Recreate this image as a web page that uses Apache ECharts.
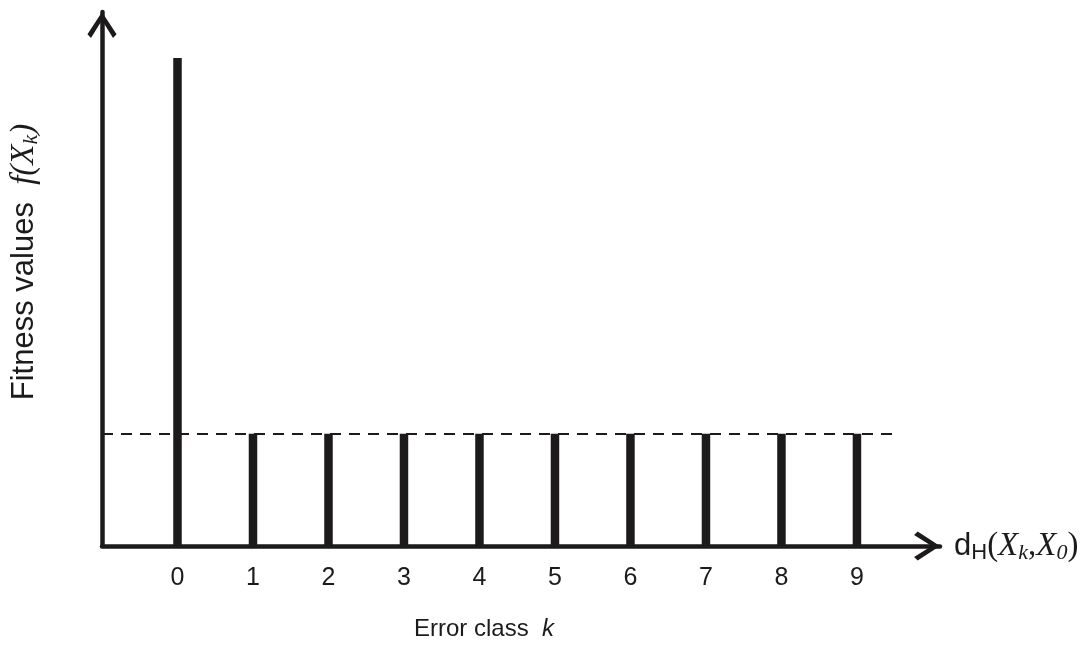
<!DOCTYPE html>
<html>
<head>
<meta charset="utf-8">
<script src="https://cdn.jsdelivr.net/npm/echarts@6/dist/echarts.min.js"></script>
<style>
html,body{margin:0;padding:0;background:#fff;}
#chart{width:1088px;height:649px;}
</style>
</head>
<body>
<div id="chart"></div>
<script>
// Data
const errorClasses = [0, 1, 2, 3, 4, 5, 6, 7, 8, 9];
const fitnessValues = [9.14, 2.1, 2.1, 2.1, 2.1, 2.1, 2.1, 2.1, 2.1, 2.1];
const tickLabels = ['0', '1', '2', '3', '4', '5', '6', '7', '8', '9'];
const thresholdValue = 2.1;
const thresholdEnd = 9.53;

const INK = '#1c1a1b';
const SANS = '"Liberation Sans", Arial, sans-serif';
const SERIF = '"Liberation Serif", "Times New Roman", serif';
const arrowPath = 'path://M14 0 L28 21.5 L24.6 25 L14 8 L3.4 25 L0 21.5 Z';

const barData = errorClasses.map((k, i) => [k, fitnessValues[i]]);

const chart = echarts.init(document.getElementById('chart'), null, {renderer: 'canvas'});
chart.setOption({
  backgroundColor: '#ffffff',
  animation: false,
  title: {
    text: 'Error class  {k|k}',
    left: 414,
    top: 617,
    padding: 0,
    textStyle: {
      fontFamily: SANS, fontSize: 24, fontWeight: 'normal', color: INK,
      rich: { k: { fontFamily: SANS, fontSize: 24, fontStyle: 'italic', color: INK } }
    }
  },
  grid: { left: 100, right: 148, top: 12, bottom: 103, containLabel: false },
  xAxis: {
    type: 'value',
    min: -1,
    max: 10.1,
    interval: 1,
    splitLine: { show: false },
    axisTick: { show: false },
    axisLine: {
      show: true,
      onZero: false,
      lineStyle: { color: INK, width: 4.5 },
      symbol: ['none', arrowPath],
      symbolSize: [29, 26],
      symbolOffset: [0, -13]
    },
    axisLabel: {
      margin: 20,
      fontFamily: SANS, fontSize: 25, color: INK,
      showMinLabel: true, showMaxLabel: false,
      formatter: function (v) {
        const i = errorClasses.indexOf(Math.round(v));
        return (Math.abs(v - Math.round(v)) < 1e-6 && i >= 0) ? tickLabels[i] : '';
      }
    },
    name: '{d|d}{h|H}{p|(}{x|X}{s|k}{p|,}{x|X}{s|0}{p|)}',
    nameLocation: 'end',
    nameGap: 14,
    nameTextStyle: {
      verticalAlign: 'middle',
      rich: {
        d: { fontFamily: SANS, fontSize: 31, color: INK },
        h: { fontFamily: SANS, fontSize: 22, color: INK, verticalAlign: 'bottom', padding: [14, 0, 0, 0] },
        p: { fontFamily: SERIF, fontSize: 33, color: INK },
        x: { fontFamily: SERIF, fontSize: 33, fontStyle: 'italic', color: INK },
        s: { fontFamily: SERIF, fontSize: 22, fontStyle: 'italic', color: INK, verticalAlign: 'bottom', padding: [14, 0, 0, 0] }
      }
    }
  },
  yAxis: {
    type: 'value',
    min: 0,
    max: 10,
    splitLine: { show: false },
    axisTick: { show: false },
    axisLabel: { show: false },
    axisLine: {
      show: true,
      onZero: false,
      lineStyle: { color: INK, width: 4.5 },
      symbol: ['none', arrowPath],
      symbolSize: [31, 26],
      symbolOffset: [0, -13]
    },
    name: '{a|Fitness values  }{f|f(X}{s|k}{f|)}',
    nameLocation: 'middle',
    nameRotate: 90,
    nameGap: 60,
    nameTextStyle: {
      padding: [0, 0, 0, 34],
      rich: {
        a: { fontFamily: SANS, fontSize: 31, color: INK },
        f: { fontFamily: SERIF, fontSize: 33, fontStyle: 'italic', color: INK },
        s: { fontFamily: SERIF, fontSize: 22, fontStyle: 'italic', color: INK, verticalAlign: 'bottom', padding: [13, 0, 0, 0] }
      }
    }
  },
  series: [{
    type: 'bar',
    data: barData,
    barWidth: 8.5,
    itemStyle: { color: INK },
    z: 3,
    markLine: {
      silent: true,
      symbol: ['none', 'none'],
      label: { show: false },
      lineStyle: { color: INK, width: 2, type: [11, 8] },
      data: [[ { coord: [-1, thresholdValue] }, { coord: [thresholdEnd, thresholdValue] } ]]
    }
  }]
});
</script>
</body>
</html>
